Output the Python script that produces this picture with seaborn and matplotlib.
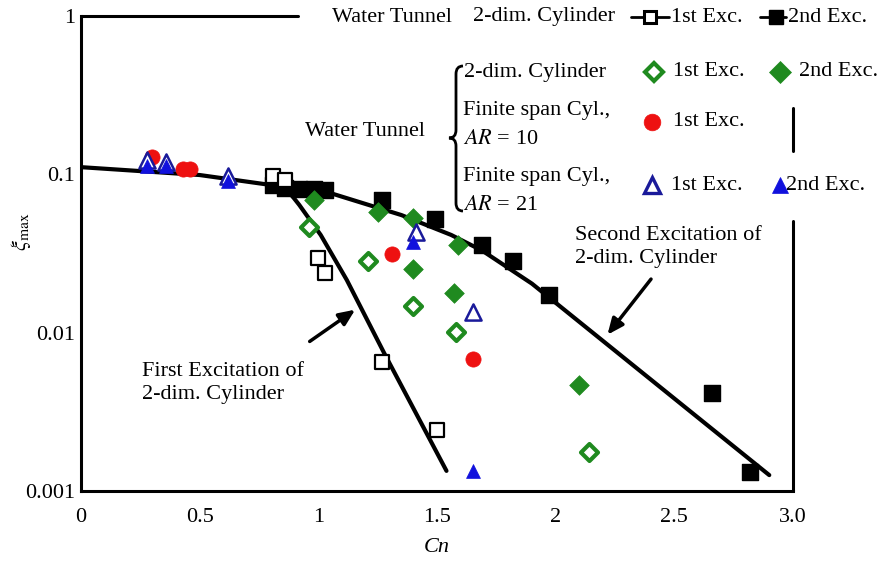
import numpy as np
import matplotlib
matplotlib.use("Agg")
import matplotlib.pyplot as plt
import seaborn as sns
from matplotlib.path import Path
from matplotlib.patches import PathPatch
from matplotlib.ticker import FixedLocator, NullLocator

# ---------------- data ----------------
# 2-dim cylinder, 1st excitation (open squares)
sq1_cn = [0.81, 0.86, 1.00, 1.03, 1.27, 1.50]
sq1_xi = [0.097, 0.092, 0.0296, 0.0238, 0.0065, 0.00243]
# 2-dim cylinder, 2nd excitation (filled squares)
sq2_cn = [0.81, 0.86, 0.92, 0.98, 1.03, 1.27, 1.49, 1.69, 1.82, 1.97, 2.66, 2.82]
sq2_xi = [0.0856, 0.0819, 0.0807, 0.0807, 0.0796, 0.0688, 0.0522, 0.0357, 0.0283, 0.0173, 0.00415, 0.00132]
# water tunnel 2-dim cylinder (diamonds)
d1_cn = [0.96, 1.21, 1.40, 1.58, 2.14]
d1_xi = [0.0465, 0.0283, 0.0147, 0.0101, 0.00176]
d2_cn = [0.98, 1.25, 1.40, 1.59, 1.40, 1.57, 2.10]
d2_xi = [0.0688, 0.0578, 0.053, 0.0357, 0.0252, 0.0178, 0.00467]
# finite span AR=10 (red circles)
c_cn = [0.30, 0.43, 0.46, 1.31, 1.65]
c_xi = [0.128, 0.108, 0.108, 0.0314, 0.0068]
# finite span AR=21 (triangles)
t1_cn = [0.28, 0.36, 0.62, 1.41, 1.65]
t1_xi = [0.123, 0.1197, 0.0975, 0.0432, 0.0135]
t2_cn = [0.28, 0.36, 0.62, 1.40, 1.65]
t2_xi = [0.113, 0.113, 0.0908, 0.0373, 0.00134]
# fitted curves
c2_cn = [0.0, 0.5, 0.86, 1.05, 1.35, 1.56, 1.69, 1.90, 2.90]
c2_xi = [0.111, 0.099, 0.0832, 0.0762, 0.0553, 0.0414, 0.033, 0.0204, 0.00126]
c1_cn = [0.86, 0.92, 1.01, 1.12, 1.28, 1.54]
c1_xi = [0.0832, 0.064, 0.0414, 0.0215, 0.0073, 0.00134]

x_ticks = [0, 0.5, 1, 1.5, 2, 2.5, 3.0]
x_labels = ["0", "0.5", "1", "1.5", "2", "2.5", "3.0"]
y_ticks = [0.001, 0.01, 0.1, 1]
y_labels = ["0.001", "0.01", "0.1", "1"]

# ---------------- style ----------------
sns.set_theme(style="white")
plt.rcParams["font.family"] = ["Liberation Serif", "DejaVu Serif"]
plt.rcParams["mathtext.fontset"] = "stix"
for k in ["text.color", "axes.labelcolor", "xtick.color", "ytick.color"]:
    plt.rcParams[k] = "black"
FS = 16

W, H = 880, 562
fig = plt.figure(figsize=(W / 100, H / 100), dpi=100)
L, R, T, B = 81, 793, 16, 491
ax = fig.add_axes([L / W, 1 - B / H, (R - L) / W, (B - T) / H])

def fx(px):
    return px / W

def fy(py):
    return 1 - py / H

GREEN = "#1f8a1f"
RED = "#ee1111"
BLUE = "#1111dd"
NAVY = "#1a1a9a"

# curves
sns.lineplot(x=c2_cn, y=c2_xi, color="black", lw=3, sort=False, estimator=None, ax=ax, zorder=2)
sns.lineplot(x=c1_cn, y=c1_xi, color="black", lw=3, sort=False, estimator=None, ax=ax, zorder=2)

def scat(cn, xi, marker, s, fc, ec, lw, z):
    sns.scatterplot(x=cn, y=xi, marker=marker, s=s, facecolor=fc, edgecolor=ec,
                    linewidth=lw, ax=ax, zorder=z, legend=False)

scat(sq2_cn, sq2_xi, "s", 125, "black", "black", 1.0, 3)
scat(sq1_cn, sq1_xi, "s", 105, "white", "black", 1.6, 4)
scat(c_cn, c_xi, "o", 120, RED, RED, 0.5, 3)
scat(d2_cn, d2_xi, "D", 100, GREEN, GREEN, 0.5, 4)
scat(d1_cn, d1_xi, "D", 75, "white", GREEN, 3.0, 4)
scat(t1_cn, t1_xi, "^", 135, "white", NAVY, 1.8, 5)
scat(t2_cn, t2_xi, "^", 100, BLUE, BLUE, 0.5, 6)

ax.set_yscale("log")
ax.set_xlim(0, 3.0)
ax.set_ylim(0.001, 1)
ax.xaxis.set_major_locator(FixedLocator(x_ticks))
ax.set_xticklabels(x_labels)
ax.yaxis.set_major_locator(FixedLocator(y_ticks))
ax.yaxis.set_minor_locator(NullLocator())
ax.set_yticklabels(y_labels)
ax.tick_params(axis="both", which="major", direction="in", length=8, width=1.5,
               labelsize=FS, colors="black", pad=12)
ax.tick_params(axis="y", pad=4)
for sp in ["left", "bottom"]:
    ax.spines[sp].set_linewidth(2.2)
    ax.spines[sp].set_color("black")
ax.spines["top"].set_visible(False)
ax.spines["right"].set_visible(False)
# partial frame (legend area blanks the rest)
ax.plot([0, (298 - L) / (R - L)], [1, 1], transform=ax.transAxes, color="black", lw=2.2, clip_on=False)
ax.plot([1, 1], [0, (B - 221) / (B - T)], transform=ax.transAxes, color="black", lw=2.2, clip_on=False)
ax.plot([1, 1], [(B - 151) / (B - T), (B - 108) / (B - T)], transform=ax.transAxes, color="black", lw=2.2, clip_on=False)

ax.set_xlabel("Cn", fontsize=FS, style="italic", labelpad=8)
ax.set_ylabel(r"$\xi_{\mathrm{max}}$", fontsize=FS)
ax.yaxis.set_label_coords((33 - L) / (R - L), (B - 232) / (B - T))

# annotations
ax.annotate("", xy=(1.165, 0.0143), xytext=(0.954, 0.0086),
            arrowprops=dict(arrowstyle="-|>,head_length=0.8,head_width=0.35", color="black", lw=2.5))
ax.annotate("", xy=(2.211, 0.0094), xytext=(2.409, 0.0225),
            arrowprops=dict(arrowstyle="-|>,head_length=0.8,head_width=0.35", color="black", lw=2.5))
fig.text(fx(142), fy(383), "First Excitation of\n2-dim. Cylinder", fontsize=FS, va="center", ha="left", linespacing=1.25)
fig.text(fx(575), fy(247), "Second Excitation of\n2-dim. Cylinder", fontsize=FS, va="center", ha="left", linespacing=1.25)

# ---------------- legend block ----------------
def t(px, py, s, **kw):
    fig.text(fx(px), fy(py), s, fontsize=FS, va="center", ha="left", **kw)

def mk(px, py, marker, ms, fc, ec, mew, line=None):
    if line is not None:
        fig.add_artist(plt.Line2D([fx(line[0]), fx(line[1])], [fy(py), fy(py)], color="black", lw=2))
    fig.add_artist(plt.Line2D([fx(px)], [fy(py)], marker=marker, ms=ms, mfc=fc, mec=ec, mew=mew, lw=0))

t(332, 17, "Water Tunnel")
t(473, 17, "2-dim. Cylinder")
mk(650, 17, "s", 9, "white", "black", 2.2, line=(631, 669))
t(671, 17, "1st Exc.")
mk(776, 17, "s", 10, "black", "black", 1, line=(760, 786))
t(788, 17, "2nd Exc.")

t(464, 72, "2-dim. Cylinder")
mk(654, 72, "D", 9, "white", GREEN, 3.0)
t(673, 72, "1st Exc.")
mk(780, 72, "D", 11, GREEN, GREEN, 0.5)
t(799, 72, "2nd Exc.")

t(305, 132, "Water Tunnel")
t(463, 110, "Finite span Cyl.,")
t(463, 140, r"$AR$ = 10")
mk(652, 122, "o", 12, RED, RED, 0.5)
t(673, 122, "1st Exc.")

t(463, 176, "Finite span Cyl.,")
t(463, 205, r"$AR$ = 21")
mk(652, 185, "^", 12, "white", NAVY, 2.4)
t(671, 185, "1st Exc.")
mk(780, 185, "^", 12, BLUE, BLUE, 0.5)
t(786, 185, "2nd Exc.")

# curly brace
xr, xm, xt = 463, 456, 449
y0, ym, y1 = 66, 138, 211
pts = [(xr, y0), (xm, y0), (xm, y0 + 8),
       (xm, ym - 8),
       (xm, ym), (xt, ym),
       (xm, ym), (xm, ym + 8),
       (xm, y1 - 8),
       (xm, y1), (xr, y1)]
codes = [Path.MOVETO, Path.CURVE3, Path.CURVE3, Path.LINETO,
         Path.CURVE3, Path.CURVE3, Path.CURVE3, Path.CURVE3,
         Path.LINETO, Path.CURVE3, Path.CURVE3]
verts = [(fx(a), fy(b)) for a, b in pts]
fig.add_artist(PathPatch(Path(verts, codes), transform=fig.transFigure, fill=False, lw=2, color="black"))

fig.savefig("out.png", dpi=100)
